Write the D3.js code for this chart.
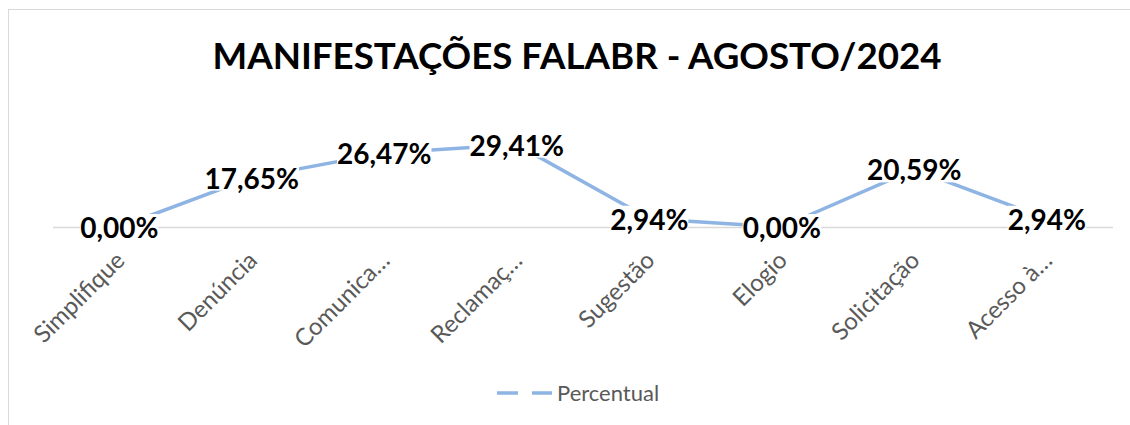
<!DOCTYPE html>
<html>
<head>
<meta charset="utf-8">
<script src="https://cdn.jsdelivr.net/npm/d3@7"></script>
<style>
  body { margin: 0; background: #fff; }
  svg { display: block; }
</style>
</head>
<body>
<script>
// dados do gráfico
const categorias = ["Simplifique", "Denúncia", "Comunica…", "Reclamaç…", "Sugestão", "Elogio", "Solicitação", "Acesso à…"];
const percentual = [0.00, 17.65, 26.47, 29.41, 2.94, 0.00, 20.59, 2.94];
const titulo = "MANIFESTAÇÕES FALABR - AGOSTO/2024";
const serieNome = "Percentual";

const width = 1130, height = 425;
const cor = "#8eb4e3";
const fonte = "Lato, 'Open Sans', sans-serif";

const svg = d3.select("body").append("svg")
  .attr("width", width)
  .attr("height", height);

svg.append("rect").attr("width", width).attr("height", height).attr("fill", "#fff");

// moldura
svg.append("rect")
  .attr("x", 8.5).attr("y", 9.5)
  .attr("width", 1130).attr("height", 430)
  .attr("fill", "none").attr("stroke", "#d9d9d9").attr("stroke-width", 1);

svg.append("text")
  .attr("x", 577).attr("y", 69)
  .attr("text-anchor", "middle")
  .attr("font-family", fonte)
  .attr("font-weight", "bold")
  .attr("font-size", 36.7)
  .attr("fill", "#000")
  .text(titulo);

const x = d3.scaleBand()
  .domain(categorias)
  .range([53, 1113]);

const y = d3.scaleLinear()
  .domain([0, 35])
  .range([227, 129]);

// linha de base
svg.append("line")
  .attr("x1", 53).attr("x2", 1113)
  .attr("y1", y(0) + 0.5).attr("y2", y(0) + 0.5)
  .attr("stroke", "#d9d9d9").attr("stroke-width", 1.5);

const linha = d3.line()
  .x((d, i) => x(categorias[i]) + x.bandwidth() / 2)
  .y(d => y(d));

svg.append("path")
  .datum(percentual)
  .attr("d", linha)
  .attr("fill", "none")
  .attr("stroke", cor)
  .attr("stroke-width", 3.5)
  .attr("stroke-linejoin", "round");

// rótulos de dados com fundo branco
const rotulos = svg.append("g");
percentual.forEach((v, i) => {
  const g = rotulos.append("g");
  const t = g.append("text")
    .attr("x", x(categorias[i]) + x.bandwidth() / 2)
    .attr("y", y(v) + 11)
    .attr("text-anchor", "middle")
    .attr("font-family", fonte)
    .attr("font-weight", "bold")
    .attr("font-size", 28)
    .attr("fill", "#000")
    .text(v.toFixed(2).replace(".", ",") + "%");
  const bb = t.node().getBBox();
  g.insert("rect", "text")
    .attr("x", bb.x).attr("y", bb.y + 4)
    .attr("width", bb.width).attr("height", bb.height - 8)
    .attr("fill", "#fff");
});

// eixo x
const eixo = svg.append("g")
  .attr("transform", `translate(0,${y(0)})`)
  .call(d3.axisBottom(x).tickSize(0).tickPadding(0));
eixo.select(".domain").remove();
eixo.selectAll("text")
  .attr("font-family", fonte)
  .attr("font-size", 24)
  .attr("fill", "#595959")
  .attr("text-anchor", "end")
  .attr("transform", "translate(1,29) rotate(-45)")
  .attr("dy", "0.35em");

// legenda
const leg = svg.append("g").attr("transform", "translate(497,393)");
leg.append("line")
  .attr("x1", 0).attr("x2", 55)
  .attr("stroke", cor).attr("stroke-width", 3.5)
  .attr("stroke-dasharray", "21,14");
leg.append("text")
  .attr("x", 60).attr("y", 0)
  .attr("dy", "0.35em")
  .attr("font-family", fonte)
  .attr("font-size", 22)
  .attr("fill", "#595959")
  .text(serieNome);
</script>
</body>
</html>
